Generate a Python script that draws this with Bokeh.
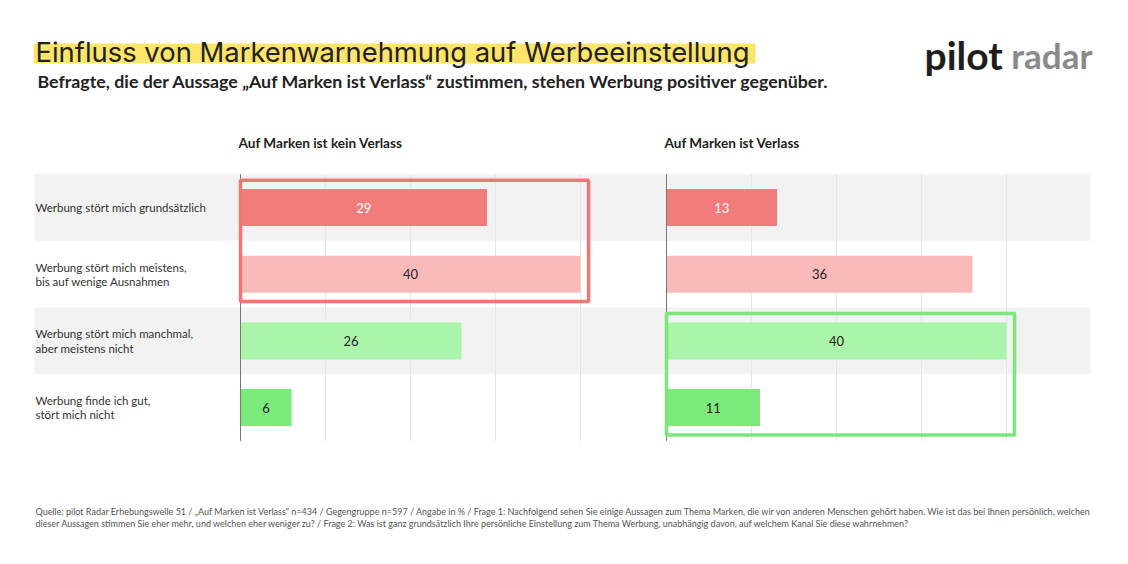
from bokeh.plotting import figure
from bokeh.models import Range1d
from bokeh.core.properties import value
from bokeh.embed import file_html
from bokeh.resources import INLINE

# ---------------- data ----------------
categories = [
    "Werbung stört mich grundsätzlich",
    "Werbung stört mich meistens,\nbis auf wenige Ausnahmen",
    "Werbung stört mich manchmal,\naber meistens nicht",
    "Werbung finde ich gut,\nstört mich nicht",
]
panel_titles = ["Auf Marken ist kein Verlass", "Auf Marken ist Verlass"]
kein_verlass = [29, 40, 26, 6]
verlass = [13, 36, 40, 11]
grid_ticks = [10, 20, 30, 40]

title = "Einfluss von Markenwarnehmung auf Werbeeinstellung"
subtitle = "Befragte, die der Aussage „Auf Marken ist Verlass“ zustimmen, stehen Werbung positiver gegenüber."
footnote1 = ("Quelle: pilot Radar Erhebungswelle 51 / „Auf Marken ist Verlass“ n=434 / Gegengruppe n=597 / Angabe in % / "
             "Frage 1: Nachfolgend sehen Sie einige Aussagen zum Thema Marken, die wir von anderen Menschen gehört haben. "
             "Wie ist das bei Ihnen persönlich, welchen")
footnote2 = ("dieser Aussagen stimmen Sie eher mehr, und welchen eher weniger zu? / Frage 2: Was ist ganz grundsätzlich "
             "Ihre persönliche Einstellung zum Thema Werbung, unabhängig davon, auf welchem Kanal Sie diese wahrnehmen?")

# ---------------- styles ----------------
bar_colors = ["#f27b7b", "#fbbaba", "#aaf5aa", "#7beb7b"]
label_colors = ["#ffffff", "#222222", "#222222", "#222222"]
FONT = "Lato"

W, H = 1112, 548
PX_PER_UNIT = 8.5
ROW_PX = 66.7
AXIS0_PAGE_X = 240
ROW0_PAGE_Y = 207
OFFSET = 426 / PX_PER_UNIT  # second panel offset in data units


def ux(px):  # page px -> data x
    return (px - AXIS0_PAGE_X) / PX_PER_UNIT


def uy(py):  # page py -> data y
    return (ROW0_PAGE_Y - py) / ROW_PX


p = figure(width=W, height=H, output_backend="svg", toolbar_location=None,
           x_range=Range1d(ux(0), ux(W)), y_range=Range1d(uy(H), uy(0)),
           x_axis_location=None, y_axis_location=None, min_border=0)
p.outline_line_color = None
p.grid.visible = False
p.background_fill_color = "white"

n = len(categories)
row_y = [-i for i in range(n)]

# background bands (alternating)
band_rows = [row_y[i] for i in range(n) if i % 2 == 0]
p.quad(left=ux(34), right=ux(1090), top=[y + 0.5 for y in band_rows],
       bottom=[y - 0.5 for y in band_rows], fill_color="#f2f2f2", line_color=None)

panels = [(0.0, kein_verlass), (OFFSET, verlass)]
ytop = row_y[0] + 0.5
ybot = row_y[-1] - 0.5

for off, vals in panels:
    # vertical grid lines
    p.segment(x0=[off + t for t in grid_ticks], x1=[off + t for t in grid_ticks],
              y0=ytop, y1=ybot, line_color="#e6e6e6", line_width=1)

for off, vals in panels:
    p.hbar(y=row_y, left=off, right=[off + v for v in vals], height=0.555,
           fill_color=bar_colors, line_color=None)
    p.text(x=[off + v / 2 for v in vals], y=row_y, text=[str(v) for v in vals],
           text_color=label_colors, text_align="center", text_baseline="middle",
           text_font=value(FONT), text_font_size="13px")
    # axis line
    p.segment(x0=[off], x1=[off], y0=ytop, y1=ybot, line_color="#777777", line_width=1)

# highlight boxes
p.quad(left=0, right=max(kein_verlass[0:2]) + 0.95, top=row_y[0] + 0.41, bottom=row_y[1] - 0.41,
       fill_color=None, line_color="#f07676", line_width=3.5)
p.quad(left=OFFSET, right=OFFSET + max(verlass[2:4]) + 0.95, top=row_y[2] + 0.41, bottom=row_y[3] - 0.41,
       fill_color=None, line_color="#7de67d", line_width=3.5)

# panel titles
p.text(x=[ux(238), ux(664)], y=uy(142), text=panel_titles, text_color="#222222",
       text_font=value(FONT), text_font_size="13.6px", text_font_style="bold",
       text_baseline="middle")

# category labels
p.text(x=ux(35), y=row_y, text=categories, text_color="#333333", text_font=value(FONT),
       text_font_size="11.5px", text_baseline="middle", text_line_height=1.1)

# title with highlight
p.quad(left=ux(33), right=ux(755), top=uy(43), bottom=uy(63), fill_color="#fde46a", line_color=None)
p.text(x=ux(35), y=uy(51), text=[title], text_color="#222222", text_font=value("Inter"),
       text_font_size="27.4px", text_baseline="middle")
p.text(x=ux(37), y=uy(80), text=[subtitle], text_color="#222222", text_font=value(FONT),
       text_font_size="17.8px", text_font_style="bold", text_baseline="middle")

# logo
p.text(x=ux(924), y=uy(54), text=["pilot"], text_color="#1e1e1e", text_font=value(FONT),
       text_font_size="39px", text_font_style="bold", text_baseline="middle")
p.text(x=ux(1092), y=uy(54), text=["radar"], text_color="#8a8a8a", text_font=value(FONT),
       text_font_size="35px", text_font_style="bold", text_baseline="middle", text_align="right")

# footnote
p.text(x=ux(35), y=[uy(511), uy(523)], text=[footnote1, footnote2], text_color="#555555",
       text_font=value(FONT), text_font_size="9px", text_baseline="middle")

open("out.html", "w").write(file_html(p, INLINE))
